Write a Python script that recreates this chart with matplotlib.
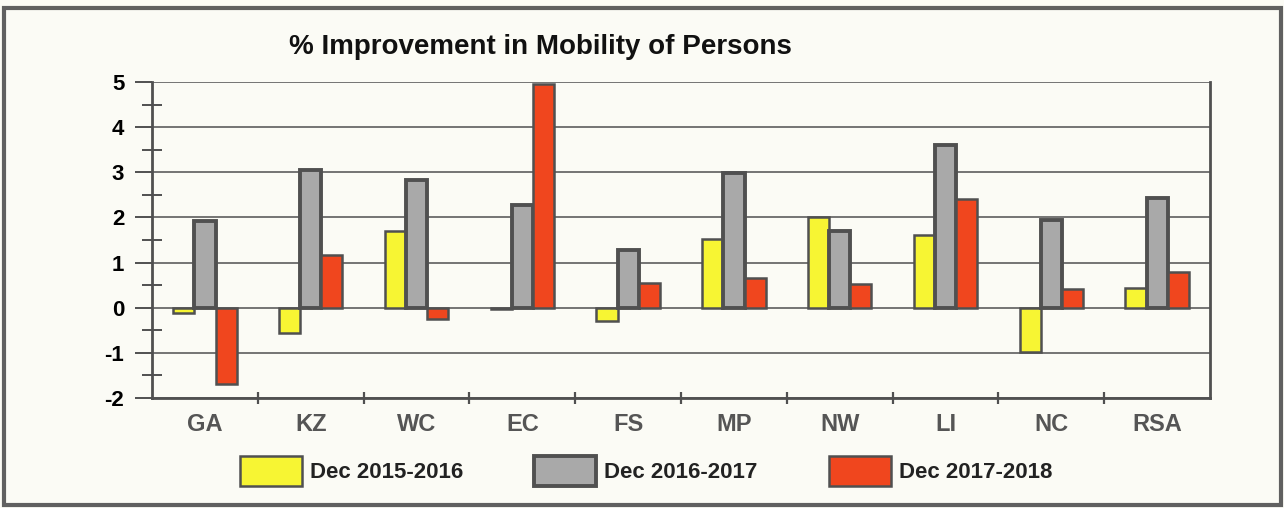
import matplotlib
matplotlib.use("Agg")
import matplotlib.pyplot as plt
from matplotlib.patches import Rectangle
import numpy as np

plt.rcParams['font.family'] = ['Liberation Sans', 'DejaVu Sans']
plt.rcParams['axes.unicode_minus'] = False

categories = ["GA", "KZ", "WC", "EC", "FS", "MP", "NW", "LI", "NC", "RSA"]
dec_2015_2016 = [-0.11, -0.55, 1.70, -0.03, -0.29, 1.53, 2.02, 1.62, -0.97, 0.43]
dec_2016_2017 = [1.92, 3.06, 2.82, 2.28, 1.27, 2.99, 1.69, 3.60, 1.94, 2.44]
dec_2017_2018 = [-1.68, 1.16, -0.25, 4.95, 0.54, 0.66, 0.53, 2.42, 0.41, 0.80]
series_labels = ["Dec 2015-2016", "Dec 2016-2017", "Dec 2017-2018"]
title = "% Improvement in Mobility of Persons"

bg = "#fbfbf5"
edge = "#505050"
fig = plt.figure(figsize=(12.84, 5.08), dpi=100, facecolor=bg)
ax = fig.add_axes([0.1184, 0.2165, 0.824, 0.622])
ax.set_facecolor(bg)

x = np.arange(len(categories))
w = 0.2
b1 = ax.bar(x - w, dec_2015_2016, w, color="#f7f533", edgecolor=edge, linewidth=1.8, zorder=3, label=series_labels[0])
b2 = ax.bar(x, dec_2016_2017, w, color="#a9a9a9", edgecolor=edge, linewidth=2.8, zorder=3, label=series_labels[1])
b3 = ax.bar(x + w, dec_2017_2018, w, color="#f0461e", edgecolor=edge, linewidth=1.8, zorder=3, label=series_labels[2])

ax.set_xlim(-0.5, len(categories) - 0.5)
ax.set_ylim(-2, 5)
ax.set_yticks(range(-2, 6))
ax.set_yticks(np.arange(-1.5, 5, 1.0), minor=True)
ax.grid(axis="y", which="major", color=edge, linewidth=1.1, zorder=1)

ax.set_xticks(x)
ax.set_xticklabels(categories, fontsize=17, fontweight="bold", color="#555555")
ax.set_xticks(np.arange(0.5, len(categories) - 0.5, 1.0), minor=True)
ax.tick_params(axis="x", which="major", length=0, pad=11)
ax.tick_params(axis="x", which="minor", direction="inout", length=8, width=1.6, color=edge)
ax.tick_params(axis="y", which="major", direction="out", length=12, width=1.4, color=edge, pad=8,
               labelsize=16, labelcolor="black")
ax.tick_params(axis="y", which="minor", direction="inout", length=15, width=1.4, color=edge)
for lab in ax.get_yticklabels():
    lab.set_fontweight("bold")

for s in ["left", "bottom", "right"]:
    ax.spines[s].set_color(edge)
    ax.spines[s].set_linewidth(2.0)
ax.spines["top"].set_visible(False)

fig.text(0.421, 0.908, title, fontsize=20, fontweight="bold", ha="center", va="center", color="#111111")

leg = fig.legend(handles=[b1, b2, b3], labels=series_labels, loc="center", bbox_to_anchor=(0.503, 0.073),
                 ncol=3, frameon=False, fontsize=16, handlelength=2.8, handleheight=1.75,
                 handletextpad=0.35, columnspacing=3.2)
for t in leg.get_texts():
    t.set_fontweight("bold")
    t.set_color("#222222")

fig.patches.append(Rectangle((4 / 1284, 3 / 508), 1277 / 1284, 497 / 508, transform=fig.transFigure,
                             fill=False, edgecolor="#606060", linewidth=3, zorder=10))

fig.savefig("out.png", dpi=100, facecolor=bg)
